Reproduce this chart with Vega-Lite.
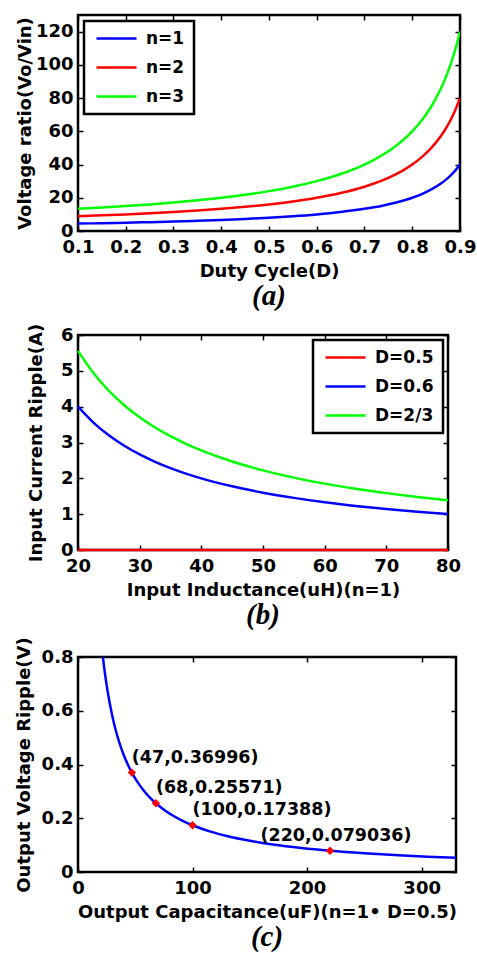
{
"$schema":"https://vega.github.io/schema/vega-lite/v6.json",
"background":"white",
"padding":{"left":13,"top":13,"right":0,"bottom":0},
"config":{
 "font":"DejaVu Sans",
 "view":{"stroke":"black","strokeWidth":2.5},
 "axis":{"domain":false,"grid":false,"ticks":true,"tickSize":-5,"tickColor":"black","tickWidth":1.5,"labelFont":"DejaVu Sans","labelFontSize":18,"labelFontWeight":"bold","labelColor":"black","labelPadding":10,"labelFlush":false,"labelOverlap":false,"labelBound":false,"titleFont":"DejaVu Sans","titleFontSize":18,"titleFontWeight":"bold","titleColor":"black","titlePadding":6},
 "axisX":{"labelPadding":12},
 "legend":{"labelFont":"DejaVu Sans","labelFontWeight":"bold","labelFontSize":17,"labelColor":"black","symbolType":"M-1,0H7","symbolStrokeWidth":2.5,"symbolSize":100,"strokeColor":"black","strokeWidth":2.5,"fillColor":"white","padding":9,"rowPadding":11,"labelOffset":36,"offset":6},
 "title":{"orient":"bottom","font":"Liberation Serif","fontStyle":"italic","fontWeight":"bold","fontSize":29,"color":"black","anchor":"middle","offset":2}
},
"datasets":{
 "a":[
  {"D":0.1,"v":4.444,"s":"n=1"},{"D":0.15,"v":4.706,"s":"n=1"},{"D":0.2,"v":5,"s":"n=1"},{"D":0.25,"v":5.333,"s":"n=1"},{"D":0.3,"v":5.714,"s":"n=1"},{"D":0.35,"v":6.154,"s":"n=1"},{"D":0.4,"v":6.667,"s":"n=1"},{"D":0.45,"v":7.273,"s":"n=1"},{"D":0.5,"v":8,"s":"n=1"},{"D":0.55,"v":8.889,"s":"n=1"},{"D":0.6,"v":10,"s":"n=1"},{"D":0.65,"v":11.429,"s":"n=1"},{"D":0.7,"v":13.333,"s":"n=1"},{"D":0.72,"v":14.286,"s":"n=1"},{"D":0.74,"v":15.385,"s":"n=1"},{"D":0.76,"v":16.667,"s":"n=1"},{"D":0.78,"v":18.182,"s":"n=1"},{"D":0.8,"v":20,"s":"n=1"},{"D":0.82,"v":22.222,"s":"n=1"},{"D":0.84,"v":25,"s":"n=1"},{"D":0.86,"v":28.571,"s":"n=1"},{"D":0.87,"v":30.769,"s":"n=1"},{"D":0.88,"v":33.333,"s":"n=1"},{"D":0.89,"v":36.364,"s":"n=1"},{"D":0.9,"v":40,"s":"n=1"},
  {"D":0.1,"v":8.889,"s":"n=2"},{"D":0.15,"v":9.412,"s":"n=2"},{"D":0.2,"v":10,"s":"n=2"},{"D":0.25,"v":10.667,"s":"n=2"},{"D":0.3,"v":11.429,"s":"n=2"},{"D":0.35,"v":12.308,"s":"n=2"},{"D":0.4,"v":13.333,"s":"n=2"},{"D":0.45,"v":14.545,"s":"n=2"},{"D":0.5,"v":16,"s":"n=2"},{"D":0.55,"v":17.778,"s":"n=2"},{"D":0.6,"v":20,"s":"n=2"},{"D":0.65,"v":22.857,"s":"n=2"},{"D":0.7,"v":26.667,"s":"n=2"},{"D":0.72,"v":28.571,"s":"n=2"},{"D":0.74,"v":30.769,"s":"n=2"},{"D":0.76,"v":33.333,"s":"n=2"},{"D":0.78,"v":36.364,"s":"n=2"},{"D":0.8,"v":40,"s":"n=2"},{"D":0.82,"v":44.444,"s":"n=2"},{"D":0.84,"v":50,"s":"n=2"},{"D":0.86,"v":57.143,"s":"n=2"},{"D":0.87,"v":61.538,"s":"n=2"},{"D":0.88,"v":66.667,"s":"n=2"},{"D":0.89,"v":72.727,"s":"n=2"},{"D":0.9,"v":80,"s":"n=2"},
  {"D":0.1,"v":13.333,"s":"n=3"},{"D":0.15,"v":14.118,"s":"n=3"},{"D":0.2,"v":15,"s":"n=3"},{"D":0.25,"v":16,"s":"n=3"},{"D":0.3,"v":17.143,"s":"n=3"},{"D":0.35,"v":18.462,"s":"n=3"},{"D":0.4,"v":20,"s":"n=3"},{"D":0.45,"v":21.818,"s":"n=3"},{"D":0.5,"v":24,"s":"n=3"},{"D":0.55,"v":26.667,"s":"n=3"},{"D":0.6,"v":30,"s":"n=3"},{"D":0.65,"v":34.286,"s":"n=3"},{"D":0.7,"v":40,"s":"n=3"},{"D":0.72,"v":42.857,"s":"n=3"},{"D":0.74,"v":46.154,"s":"n=3"},{"D":0.76,"v":50,"s":"n=3"},{"D":0.78,"v":54.545,"s":"n=3"},{"D":0.8,"v":60,"s":"n=3"},{"D":0.82,"v":66.667,"s":"n=3"},{"D":0.84,"v":75,"s":"n=3"},{"D":0.86,"v":85.714,"s":"n=3"},{"D":0.87,"v":92.308,"s":"n=3"},{"D":0.88,"v":100,"s":"n=3"},{"D":0.89,"v":109.091,"s":"n=3"},{"D":0.9,"v":120,"s":"n=3"}
 ],
 "b":[
  {"L":20,"i":0,"s":"D=0.5"},{"L":50,"i":0,"s":"D=0.5"},{"L":80,"i":0,"s":"D=0.5"},
  {"L":20,"i":4,"s":"D=0.6"},{"L":22.5,"i":3.556,"s":"D=0.6"},{"L":25,"i":3.2,"s":"D=0.6"},{"L":27.5,"i":2.909,"s":"D=0.6"},{"L":30,"i":2.667,"s":"D=0.6"},{"L":32.5,"i":2.462,"s":"D=0.6"},{"L":35,"i":2.286,"s":"D=0.6"},{"L":37.5,"i":2.133,"s":"D=0.6"},{"L":40,"i":2,"s":"D=0.6"},{"L":45,"i":1.778,"s":"D=0.6"},{"L":50,"i":1.6,"s":"D=0.6"},{"L":55,"i":1.455,"s":"D=0.6"},{"L":60,"i":1.333,"s":"D=0.6"},{"L":65,"i":1.231,"s":"D=0.6"},{"L":70,"i":1.143,"s":"D=0.6"},{"L":75,"i":1.067,"s":"D=0.6"},{"L":80,"i":1,"s":"D=0.6"},
  {"L":20,"i":5.556,"s":"D=2/3"},{"L":22.5,"i":4.938,"s":"D=2/3"},{"L":25,"i":4.444,"s":"D=2/3"},{"L":27.5,"i":4.04,"s":"D=2/3"},{"L":30,"i":3.704,"s":"D=2/3"},{"L":32.5,"i":3.419,"s":"D=2/3"},{"L":35,"i":3.175,"s":"D=2/3"},{"L":37.5,"i":2.963,"s":"D=2/3"},{"L":40,"i":2.778,"s":"D=2/3"},{"L":45,"i":2.469,"s":"D=2/3"},{"L":50,"i":2.222,"s":"D=2/3"},{"L":55,"i":2.02,"s":"D=2/3"},{"L":60,"i":1.852,"s":"D=2/3"},{"L":65,"i":1.709,"s":"D=2/3"},{"L":70,"i":1.587,"s":"D=2/3"},{"L":75,"i":1.481,"s":"D=2/3"},{"L":80,"i":1.389,"s":"D=2/3"}
 ],
 "c":[
  {"C":21.74,"V":0.7998},{"C":23,"V":0.756},{"C":25,"V":0.6955},{"C":27.5,"V":0.6323},{"C":30,"V":0.5796},{"C":32.5,"V":0.535},{"C":35,"V":0.4968},{"C":37.5,"V":0.4637},{"C":40,"V":0.4347},{"C":43.5,"V":0.3997},{"C":47,"V":0.36996},{"C":52,"V":0.3344},{"C":58,"V":0.2998},{"C":63,"V":0.276},{"C":68,"V":0.25571},{"C":75,"V":0.2318},{"C":82,"V":0.212},{"C":90,"V":0.1932},{"C":100,"V":0.17388},{"C":115,"V":0.1512},{"C":130,"V":0.1338},{"C":150,"V":0.1159},{"C":170,"V":0.1023},{"C":195,"V":0.0892},{"C":220,"V":0.079036},{"C":250,"V":0.0696},{"C":280,"V":0.0621},{"C":305,"V":0.057},{"C":330,"V":0.0527}
 ],
 "pts":[
  {"C":47,"V":0.36996,"label":"(47,0.36996)","pos":"left"},
  {"C":68,"V":0.25571,"label":"(68,0.25571)","pos":"left"},
  {"C":100,"V":0.17388,"label":"(100,0.17388)","pos":"left"},
  {"C":220,"V":0.079036,"label":"(220,0.079036)","pos":"center"}
 ]
},
"columns":1,
"align":"none",
"spacing":9,
"resolve":{"scale":{"color":"independent"},"legend":{"color":"independent"}},
"concat":[
 {
  "width":382,"height":216,
  "title":{"text":"(a)"},
  "data":{"name":"a"},
  "layer":[
   {"mark":{"type":"line","strokeWidth":2.5,"interpolate":"monotone","clip":true},
    "encoding":{
     "x":{"field":"D","type":"quantitative","scale":{"domain":[0.1,0.9],"nice":false,"zero":false},"axis":{"title":"Duty Cycle(D)","values":[0.1,0.2,0.3,0.4,0.5,0.6,0.7,0.8,0.9],"format":".1f"}},
     "y":{"field":"v","type":"quantitative","scale":{"domain":[0,130],"nice":false},"axis":{"title":"Voltage ratio(Vo/Vin)","values":[0,20,40,60,80,100,120],"titlePadding":1}},
     "color":{"field":"s","type":"nominal","scale":{"domain":["n=1","n=2","n=3"],"range":["#0000ff","#ff0000","#00ff00"]},"legend":{"orient":"top-left","title":null}}
    }},
   {"mark":{"type":"point","opacity":0},
    "encoding":{
     "x":{"field":"D","type":"quantitative","axis":{"orient":"top","labels":false,"title":null,"values":[0.1,0.2,0.3,0.4,0.5,0.6,0.7,0.8,0.9]}},
     "y":{"field":"v","type":"quantitative","axis":{"orient":"right","labels":false,"title":null,"values":[0,20,40,60,80,100,120]}}
    }}
  ],
  "resolve":{"axis":{"x":"independent","y":"independent"}}
 },
 {
  "columns":1,
  "align":"none",
  "spacing":3,
  "resolve":{"scale":{"color":"independent"},"legend":{"color":"independent"}},
  "concat":[
   {
    "width":370,"height":215,
    "title":{"text":"(b)"},
    "data":{"name":"b"},
    "layer":[
     {"mark":{"type":"line","strokeWidth":2.5,"interpolate":"monotone"},
      "encoding":{
       "x":{"field":"L","type":"quantitative","scale":{"domain":[20,80],"nice":false,"zero":false},"axis":{"title":"Input Inductance(uH)(n=1)","values":[20,30,40,50,60,70,80],"format":"d"}},
       "y":{"field":"i","type":"quantitative","scale":{"domain":[0,6],"nice":false},"axis":{"title":"Input Current Ripple(A)","values":[0,1,2,3,4,5,6],"format":"d","titlePadding":15}},
       "color":{"field":"s","type":"nominal","scale":{"domain":["D=0.5","D=0.6","D=2/3"],"range":["#ff0000","#0000ff","#00ff00"]},"legend":{"orient":"top-right","title":null,"offset":5}}
      }},
     {"mark":{"type":"point","opacity":0},
      "encoding":{
       "x":{"field":"L","type":"quantitative","axis":{"orient":"top","labels":false,"title":null,"values":[20,30,40,50,60,70,80]}},
       "y":{"field":"i","type":"quantitative","axis":{"orient":"right","labels":false,"title":null,"values":[0,1,2,3,4,5,6]}}
      }}
    ],
    "resolve":{"axis":{"x":"independent","y":"independent"}}
   },
   {
    "width":378,"height":215,
    "title":{"text":"(c)"},
    "layer":[
     {"data":{"name":"c"},
      "mark":{"type":"line","strokeWidth":2.5,"color":"#0000ff","interpolate":"monotone","clip":true},
      "encoding":{
       "x":{"field":"C","type":"quantitative","scale":{"domain":[0,330],"nice":false},"axis":{"title":"Output Capacitance(uF)(n=1•   D=0.5)","values":[0,100,200,300],"format":"d"}},
       "y":{"field":"V","type":"quantitative","scale":{"domain":[0,0.8],"nice":false},"axis":{"title":"Output Voltage Ripple(V)","values":[0,0.2,0.4,0.6,0.8],"format":"~g","titlePadding":8}}
      }},
     {"data":{"name":"c"},
      "mark":{"type":"point","opacity":0},
      "encoding":{
       "x":{"field":"C","type":"quantitative","axis":{"orient":"top","labels":false,"title":null,"values":[0,100,200,300]}},
       "y":{"field":"V","type":"quantitative","axis":{"orient":"right","labels":false,"title":null,"values":[0,0.2,0.4,0.6,0.8]}}
      }},
     {"data":{"name":"pts"},
      "mark":{"type":"point","shape":"diamond","filled":true,"color":"#ff0000","size":70,"opacity":1},
      "encoding":{
       "x":{"field":"C","type":"quantitative","axis":null},
       "y":{"field":"V","type":"quantitative","axis":null}
      }},
     {"data":{"name":"pts"},
      "transform":[{"filter":"datum.pos == 'left'"}],
      "mark":{"type":"text","align":"left","baseline":"middle","dy":-15,"font":"DejaVu Sans","fontWeight":"bold","fontSize":17.5,"color":"black"},
      "encoding":{
       "x":{"field":"C","type":"quantitative","axis":null},
       "y":{"field":"V","type":"quantitative","axis":null},
       "text":{"field":"label"}
      }},
     {"data":{"name":"pts"},
      "transform":[{"filter":"datum.pos == 'center'"}],
      "mark":{"type":"text","align":"center","baseline":"middle","dy":-15,"dx":6,"font":"DejaVu Sans","fontWeight":"bold","fontSize":17.5,"color":"black"},
      "encoding":{
       "x":{"field":"C","type":"quantitative","axis":null},
       "y":{"field":"V","type":"quantitative","axis":null},
       "text":{"field":"label"}
      }}
    ],
    "resolve":{"axis":{"x":"independent","y":"independent"}}
   }
  ]
 }
]
}
